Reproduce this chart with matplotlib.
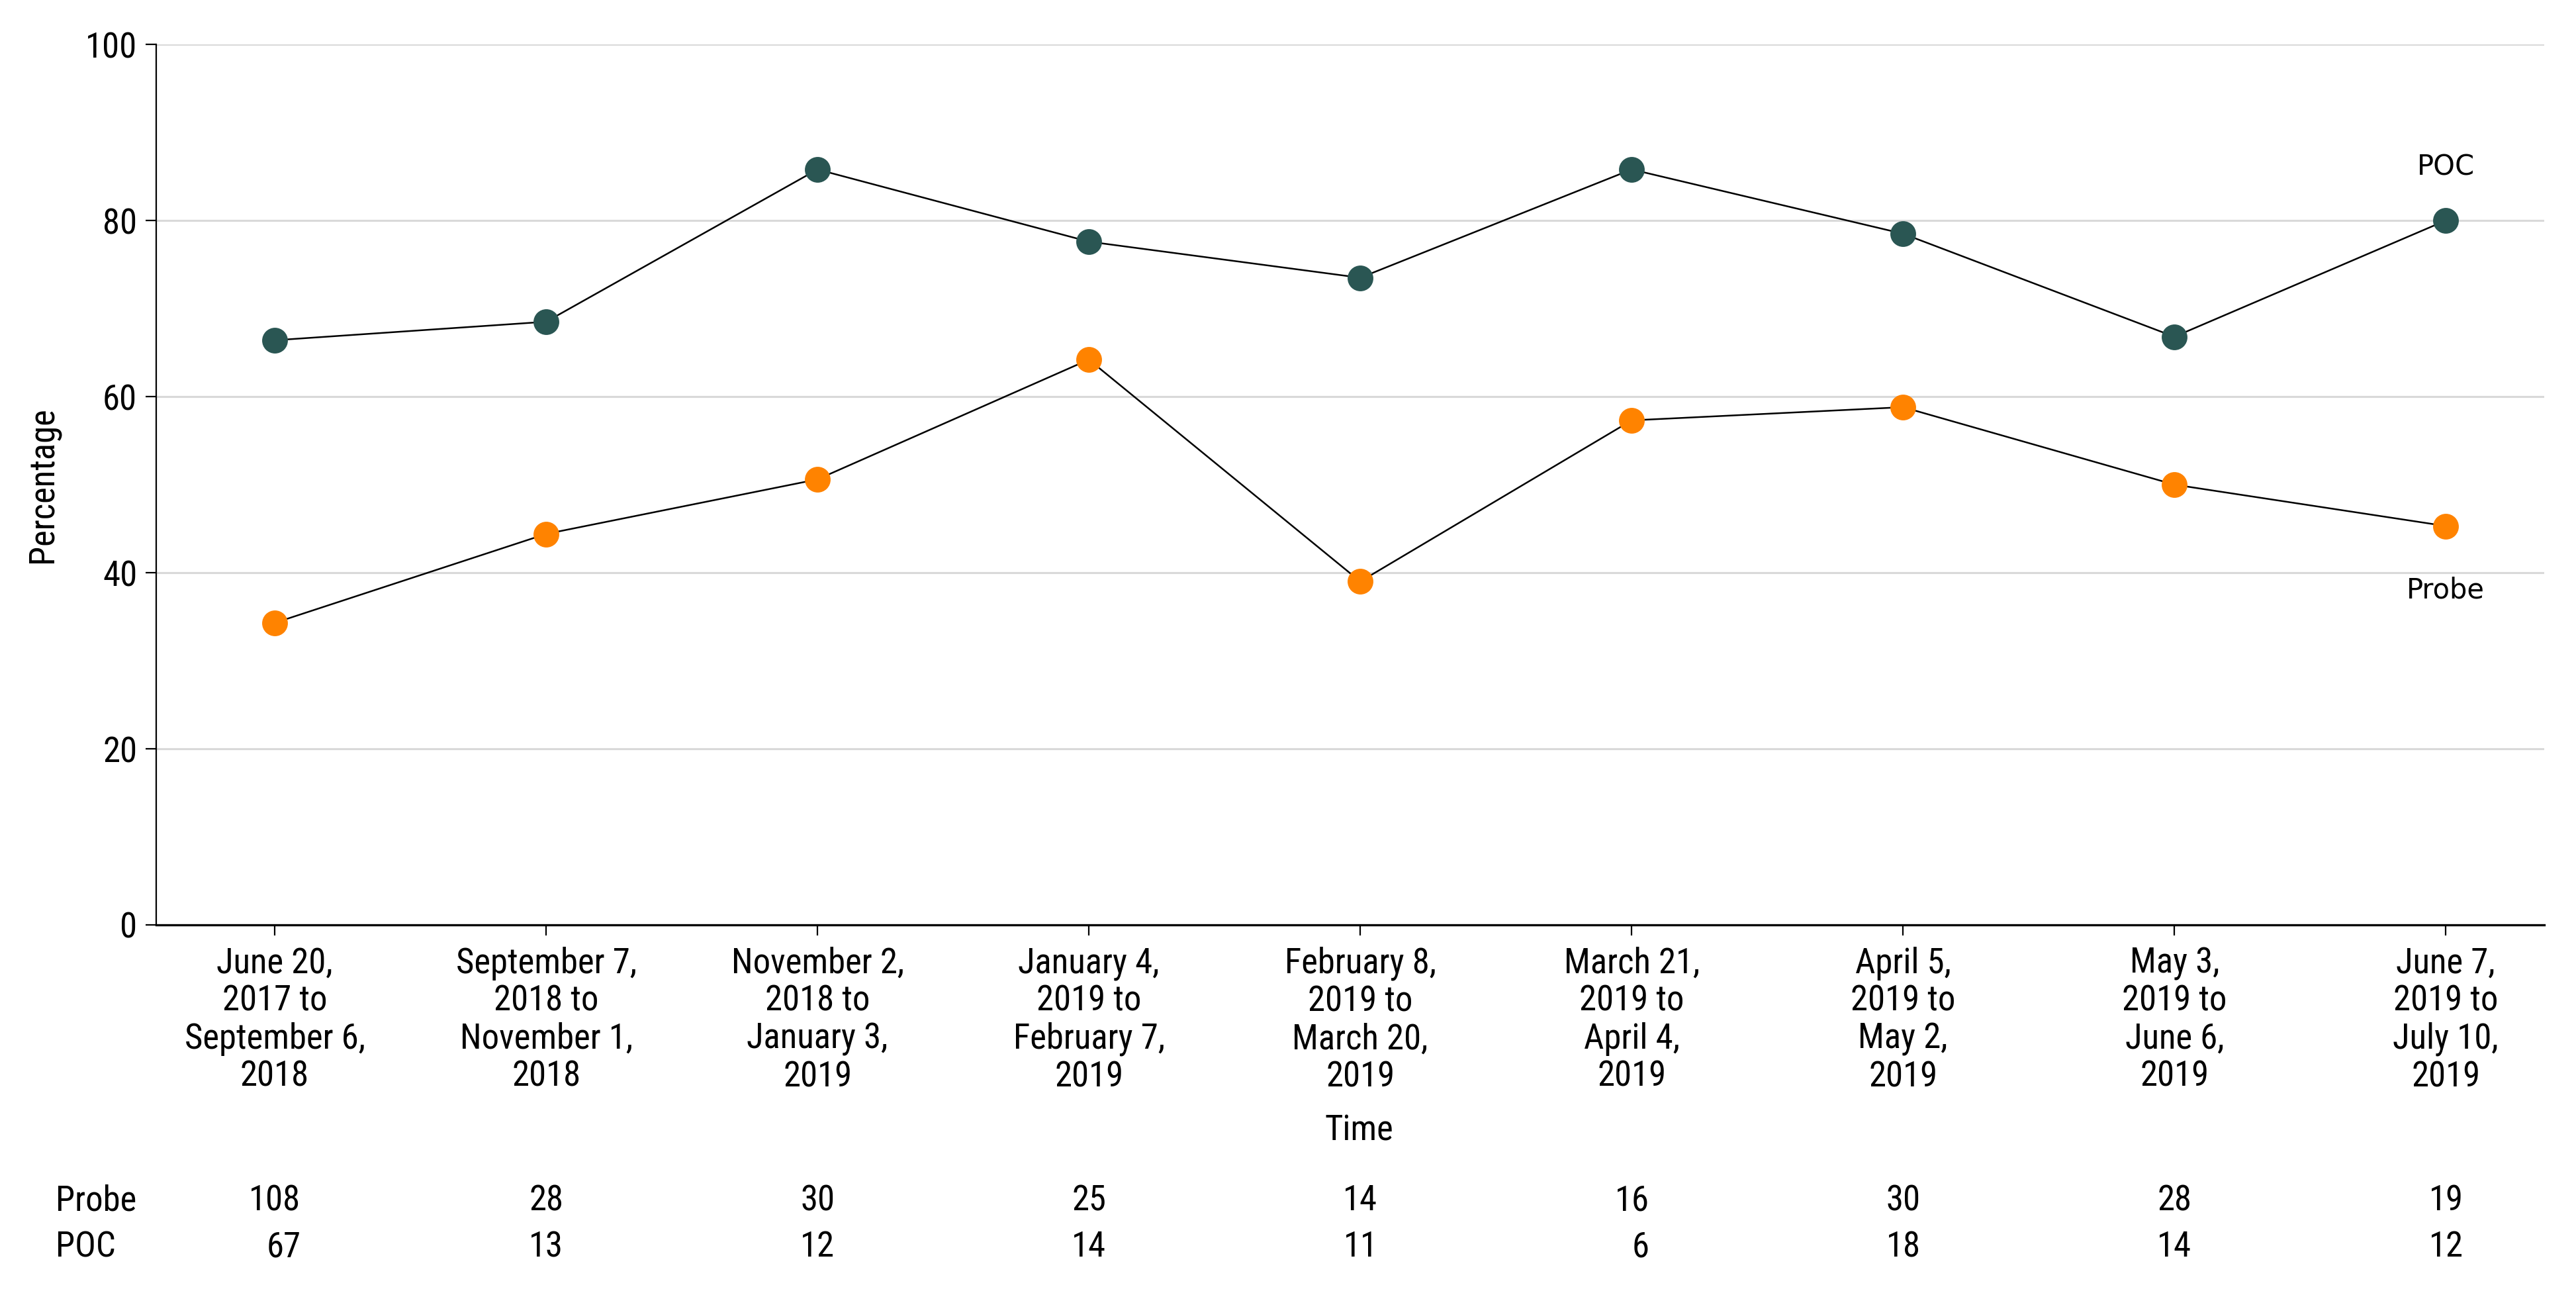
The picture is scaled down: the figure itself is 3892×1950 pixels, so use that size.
import numpy as np
import matplotlib.pyplot as plt

periods = [
    "June 20,\n2017 to\nSeptember 6,\n2018",
    "September 7,\n2018 to\nNovember 1,\n2018",
    "November 2,\n2018 to\nJanuary 3,\n2019",
    "January 4,\n2019 to\nFebruary 7,\n2019",
    "February 8,\n2019 to\nMarch 20,\n2019",
    "March 21,\n2019 to\nApril 4,\n2019",
    "April 5,\n2019 to\nMay 2,\n2019",
    "May 3,\n2019 to\nJune 6,\n2019",
    "June 7,\n2019 to\nJuly 10,\n2019",
]
poc_pct = [66.4, 68.5, 85.8, 77.6, 73.5, 85.8, 78.5, 66.8, 80.0]
probe_pct = [34.3, 44.4, 50.6, 64.2, 39.0, 57.3, 58.8, 50.0, 45.3]
probe_n = [108, 28, 30, 25, 14, 16, 30, 28, 19]
poc_n = [67, 13, 12, 14, 11, 6, 18, 14, 12]

teal = "#2a5653"
orange = "#ff8300"
narrow = dict(family=["Roboto Condensed", "DejaVu Sans"], stretch="condensed")
fs = 19

fig = plt.figure(figsize=(19.46, 9.75), dpi=200)
ax = fig.add_axes([0.0606, 0.2836, 0.9271, 0.682])

x = np.arange(len(periods))
ax.plot(x, poc_pct, color="black", lw=0.9, marker="o", ms=13,
        mfc=teal, mec=teal, zorder=3)
ax.plot(x, probe_pct, color="black", lw=0.9, marker="o", ms=13,
        mfc=orange, mec=orange, zorder=3)

ax.annotate("POC", (x[-1], poc_pct[-1]), xytext=(0, 29), textcoords="offset points",
            ha="center", va="center", fontsize=15, family="DejaVu Sans")
ax.annotate("Probe", (x[-1], probe_pct[-1]), xytext=(0, -35), textcoords="offset points",
            ha="center", va="center", fontsize=15, family="DejaVu Sans")

ax.set_xlim(-0.437, 8.363)
ax.set_ylim(0, 100)
ax.set_yticks(range(0, 101, 20))
ax.set_xticks(x)
ax.set_xticklabels(periods, fontsize=fs, linespacing=1.15, **narrow)
for lab in ax.get_yticklabels():
    lab.set_family(narrow["family"])
    lab.set_stretch("condensed")
    lab.set_fontsize(fs)

for y in range(20, 101, 20):
    ax.axhline(y, color="#d9d9d9", lw=1.1, zorder=0)

for s in ["top", "right"]:
    ax.spines[s].set_visible(False)
ax.spines["left"].set_linewidth(0.8)
ax.spines["bottom"].set_linewidth(1.2)
ax.tick_params(axis="both", length=5.8, width=0.8, direction="out")
ax.tick_params(axis="x", pad=6)
ax.tick_params(axis="y", pad=4.5)

ax.set_ylabel("Percentage", fontsize=fs, labelpad=14, **narrow)
fig.text(0.5275, 1 - 1708 / 1950, "Time", fontsize=fs, ha="center", va="center", **narrow)

# sample sizes below the chart
row_y = [1 - 1814 / 1950, 1 - 1884 / 1950]
for row, name in enumerate(["Probe", "POC"]):
    fig.text(84 / 3892, row_y[row], name, fontsize=fs, ha="left", va="center", **narrow)
for i in range(len(periods)):
    width = max(len(str(probe_n[i])), len(str(poc_n[i])))
    xr = x[i] + width * 0.032
    xf = fig.transFigure.inverted().transform(ax.transData.transform((xr, 0)))[0]
    for row, vals in enumerate([probe_n, poc_n]):
        fig.text(xf, row_y[row], str(vals[i]), fontsize=fs, ha="right", va="center", **narrow)

fig.savefig("out.png", dpi=200)
